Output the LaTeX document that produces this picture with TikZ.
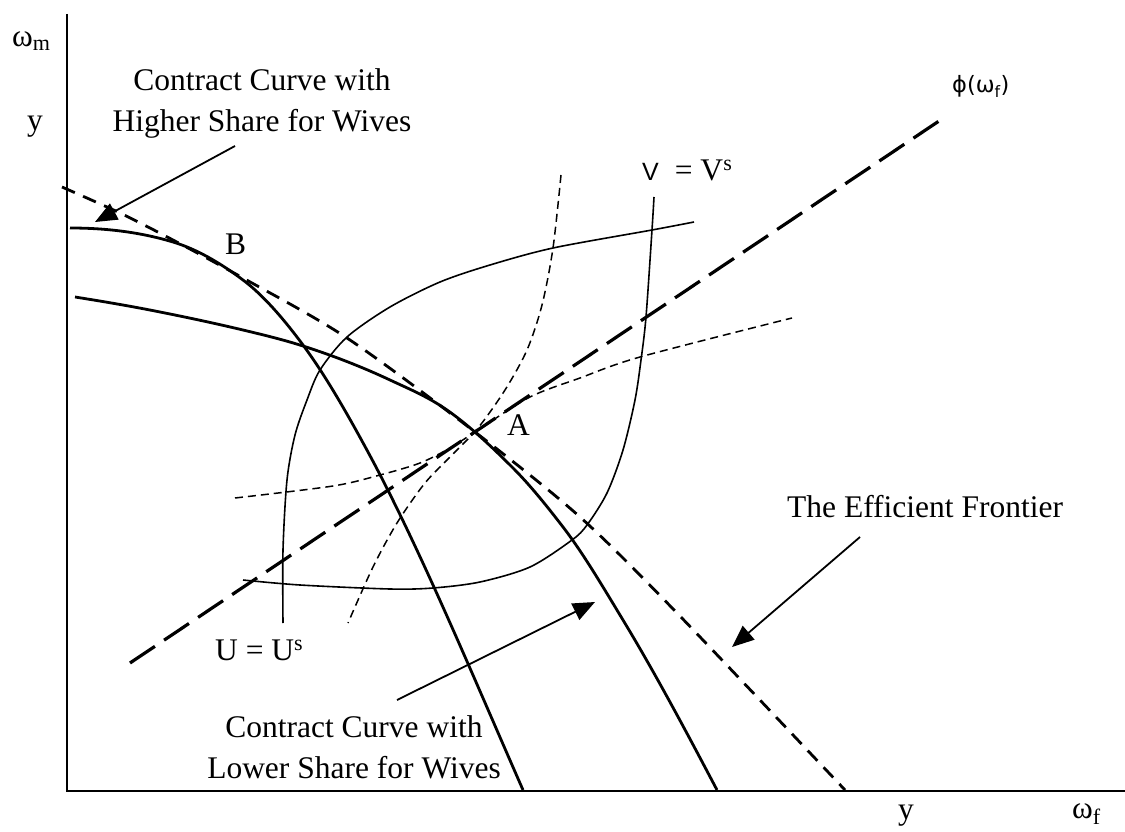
\documentclass[tikz,border=0pt]{standalone}
\usepackage{fontspec}
\setmainfont{Liberation Serif}
\newfontfamily\sansfam{Liberation Sans}
\newfontfamily\dvsans{DejaVu Sans}
\usetikzlibrary{arrows.meta}
\begin{document}
\begin{tikzpicture}[x=1pt,y=-1pt,
  axis/.style={line width=1.8pt},
  thickcurve/.style={line width=2.8pt},
  thincurve/.style={line width=1.6pt},
  frontier/.style={line width=2.8pt, dash pattern=on 14pt off 9pt},
  philine/.style={line width=3.2pt, dash pattern=on 30pt off 11pt},
  thindash/.style={line width=1.5pt, dash pattern=on 8pt off 5pt},
  pointer/.style={line width=1.8pt, -{Triangle[length=22pt,width=18pt]}},
  lbl/.style={font=\fontsize{31.5}{41}\selectfont, inner sep=0pt},
  ]
\useasboundingbox (0,0) rectangle (1125,832);
% axes
\coordinate (O) at (67,791);
\coordinate (ytop) at (67,14);
\coordinate (xend) at (1125,791);
\draw[axis] (ytop) -- (O) -- (xend);
% axis labels
\node[lbl, anchor=base west] (wm) at (12,47) {ω\textsubscript{m}};
\node[lbl, anchor=base west] (yl) at (27,131) {y};
\node[lbl, anchor=base west] (yb) at (898,819) {y};
\node[lbl, anchor=base west] (wf) at (1072,818) {ω\textsubscript{f}};
\node[inner sep=0pt, font=\dvsans\fontsize{22.5}{26}\selectfont, anchor=base west] (phi) at (952,93) {ϕ(ω\textsubscript{f})};
% phi line
\coordinate (phiA) at (130,663);
\coordinate (phiB) at (945,117);
\draw[philine] (phiA) -- (phiB);
% efficient frontier
\draw[frontier] plot[smooth, tension=0.5] coordinates {(62,187) (120,213) (173,240) (243,278) (347,338) (475,432) (580,517) (677,613) (845,790)};
% contract curve with higher share for wives
\draw[thickcurve] (70,228)
  .. controls (104.3,228) and (138.7,231.7) .. (173,242)
  .. controls (196.3,249) and (219.7,262.5) .. (243,280)
  .. controls (263,295) and (283,318) .. (303,345)
  .. controls (324.7,374.3) and (346.3,411.9) .. (368,452)
  .. controls (389.7,492.1) and (411.3,537.3) .. (433,585)
  .. controls (463,651) and (493,721.6) .. (523,790);
% contract curve with lower share for wives
\draw[thickcurve] (75,297)
  .. controls (103.3,301.5) and (131.7,306.3) .. (160,312)
  .. controls (187.7,317.5) and (215.3,323.4) .. (243,330)
  .. controls (263,334.8) and (283,339.6) .. (303,346)
  .. controls (332,355.3) and (361,366.4) .. (390,380)
  .. controls (409,388.9) and (428,396.7) .. (447,410)
  .. controls (469,425.4) and (491,446) .. (513,468)
  .. controls (529.7,484.7) and (546.3,505.3) .. (563,527)
  .. controls (583,553) and (603,587) .. (623,620)
  .. controls (654.3,671.7) and (685.7,730.5) .. (717,790);
% thin dashed indifference curves
\draw[thindash] plot[smooth, tension=0.5] coordinates {(561,175) (553,248) (542,305) (527,350) (505,390) (478,428) (452,455) (425,483) (397,523) (373,567) (348,623)};
\draw[thindash] plot[smooth, tension=0.5] coordinates {(235,498) (333,486) (380,475) (420,463) (450,448) (478,430) (530,397) (580,378) (640,357) (792,318)};
% U = U^s
\draw[thincurve] plot[smooth, tension=0.5] coordinates {(283,623) (283,550) (287,480) (295,435) (307,400) (320,370) (347,337) (390,307) (440,282) (490,265) (553,248) (652,230) (694,222)};
% V = V^s
\draw[thincurve] plot[smooth, tension=0.5] coordinates {(654,197) (652,230) (646,317) (641,360) (635,400) (623,450) (607,493) (587,525) (572,540) (530,567) (480,582) (433,588) (390,589) (300,585) (243,580)};
% labels
\node[lbl, anchor=base west] (B) at (225,254) {B};
\node[lbl, anchor=base west] (A) at (507,435) {A};
\node[lbl, anchor=base west] (V) at (642,180) {{\sansfam\fontsize{25}{30}\selectfont V}\hspace{16pt}= V\textsuperscript{s}};
\node[lbl, anchor=base west] (U) at (215,660) {U = U\textsuperscript{s}};
\node[lbl, align=center, anchor=base] (hi) at (262,132) {Contract Curve with\\Higher Share for Wives};
\node[lbl, align=center, anchor=base] (lo) at (354,778) {Contract Curve with\\Lower Share for Wives};
\node[lbl, anchor=base west] (ef) at (787,517) {The Efficient Frontier};
% pointers
\coordinate (p1s) at (235,146);
\coordinate (p1e) at (95,222);
\coordinate (p2s) at (397,700);
\coordinate (p2e) at (595,602);
\coordinate (p3s) at (860,537);
\coordinate (p3e) at (732,647);
\draw[pointer] (p1s) -- (p1e);
\draw[pointer] (p2s) -- (p2e);
\draw[pointer] (p3s) -- (p3e);
\end{tikzpicture}
\end{document}
